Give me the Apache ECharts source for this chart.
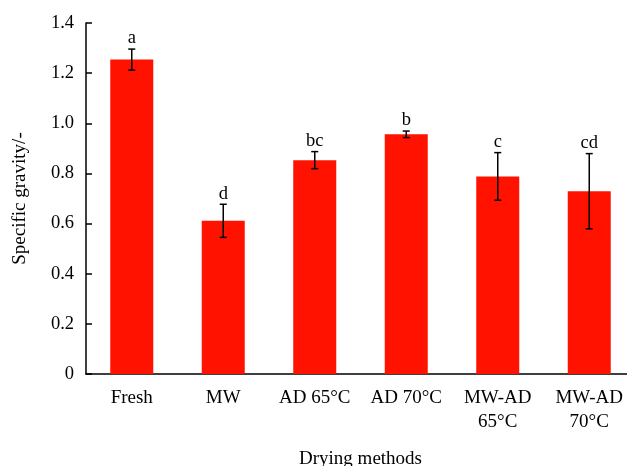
<!DOCTYPE html>
<html>
<head>
<meta charset="utf-8">
<script src="https://cdn.jsdelivr.net/npm/echarts@6/dist/echarts.min.js"></script>
<style>
  html, body { margin: 0; padding: 0; background: #fff; }
  #chart { width: 627px; height: 466px; }
</style>
</head>
<body>
<div id="chart"></div>
<script>
// Drying method groups and measured specific gravity (mean ± SD)
const categories = ['Fresh', 'MW', 'AD 65°C', 'AD 70°C', 'MW-AD\n65°C', 'MW-AD\n70°C'];
const meanValues = [1.254, 0.611, 0.853, 0.956, 0.788, 0.729];
const errorValues = [0.042, 0.066, 0.034, 0.013, 0.095, 0.150];
const groupLetters = ['a', 'd', 'bc', 'b', 'c', 'cd'];
const yTicks = [0, 0.2, 0.4, 0.6, 0.8, 1.0, 1.2, 1.4];

const FONT = '"Liberation Serif", "Times New Roman", serif';

const errorData = categories.map((c, i) => [i, meanValues[i], errorValues[i], groupLetters[i]]);

const chart = echarts.init(document.getElementById('chart'));
chart.setOption({
  animation: false,
  backgroundColor: '#fff',
  grid: { left: 86, right: -8, top: 23, bottom: 92, containLabel: false, outerBoundsMode: 'none' },
  xAxis: {
    type: 'category',
    data: categories,
    name: 'Drying methods',
    nameLocation: 'middle',
    nameGap: 76,
    nameTextStyle: { fontFamily: FONT, fontSize: 19, color: '#000' },
    axisLine: { lineStyle: { color: '#000', width: 1.5 } },
    axisTick: { inside: true, length: 6, lineStyle: { color: '#000', width: 1.5 } },
    axisLabel: { fontFamily: FONT, fontSize: 19, color: '#000', margin: 12, lineHeight: 24, interval: 0 }
  },
  yAxis: {
    type: 'value',
    min: yTicks[0],
    max: yTicks[yTicks.length - 1],
    interval: 0.2,
    name: 'Specific gravity/-',
    nameLocation: 'middle',
    nameGap: 56,
    nameTextStyle: { fontFamily: FONT, fontSize: 19, color: '#000' },
    splitLine: { show: false },
    axisLine: { show: true, lineStyle: { color: '#000', width: 1.5 } },
    axisTick: { show: true, inside: true, length: 6, lineStyle: { color: '#000', width: 1.5 } },
    axisLabel: {
      fontFamily: FONT, fontSize: 18.5, color: '#000', margin: 12,
      formatter: v => (v === 0 ? '0' : v.toFixed(1))
    }
  },
  series: [
    {
      type: 'bar',
      data: meanValues,
      barWidth: '47%',
      itemStyle: { color: '#ff1200' }
    },
    {
      type: 'custom',
      data: errorData,
      z: 5,
      renderItem: (params, api) => {
        const i = api.value(0);
        const m = api.value(1);
        const e = api.value(2);
        const top = api.coord([i, m + e]);
        const bot = api.coord([i, m - e]);
        const cap = 3.5;
        const style = { stroke: '#000', lineWidth: 1.5 };
        return {
          type: 'group',
          children: [
            { type: 'line', shape: { x1: top[0], y1: top[1], x2: bot[0], y2: bot[1] }, style },
            { type: 'line', shape: { x1: top[0] - cap, y1: top[1], x2: top[0] + cap, y2: top[1] }, style },
            { type: 'line', shape: { x1: bot[0] - cap, y1: bot[1], x2: bot[0] + cap, y2: bot[1] }, style },
            {
              type: 'text',
              style: {
                x: top[0], y: top[1] - 1,
                text: groupLetters[params.dataIndex],
                fill: '#000',
                font: '18.5px ' + FONT,
                textAlign: 'center',
                textVerticalAlign: 'bottom'
              }
            }
          ]
        };
      }
    }
  ]
});
</script>
</body>
</html>
